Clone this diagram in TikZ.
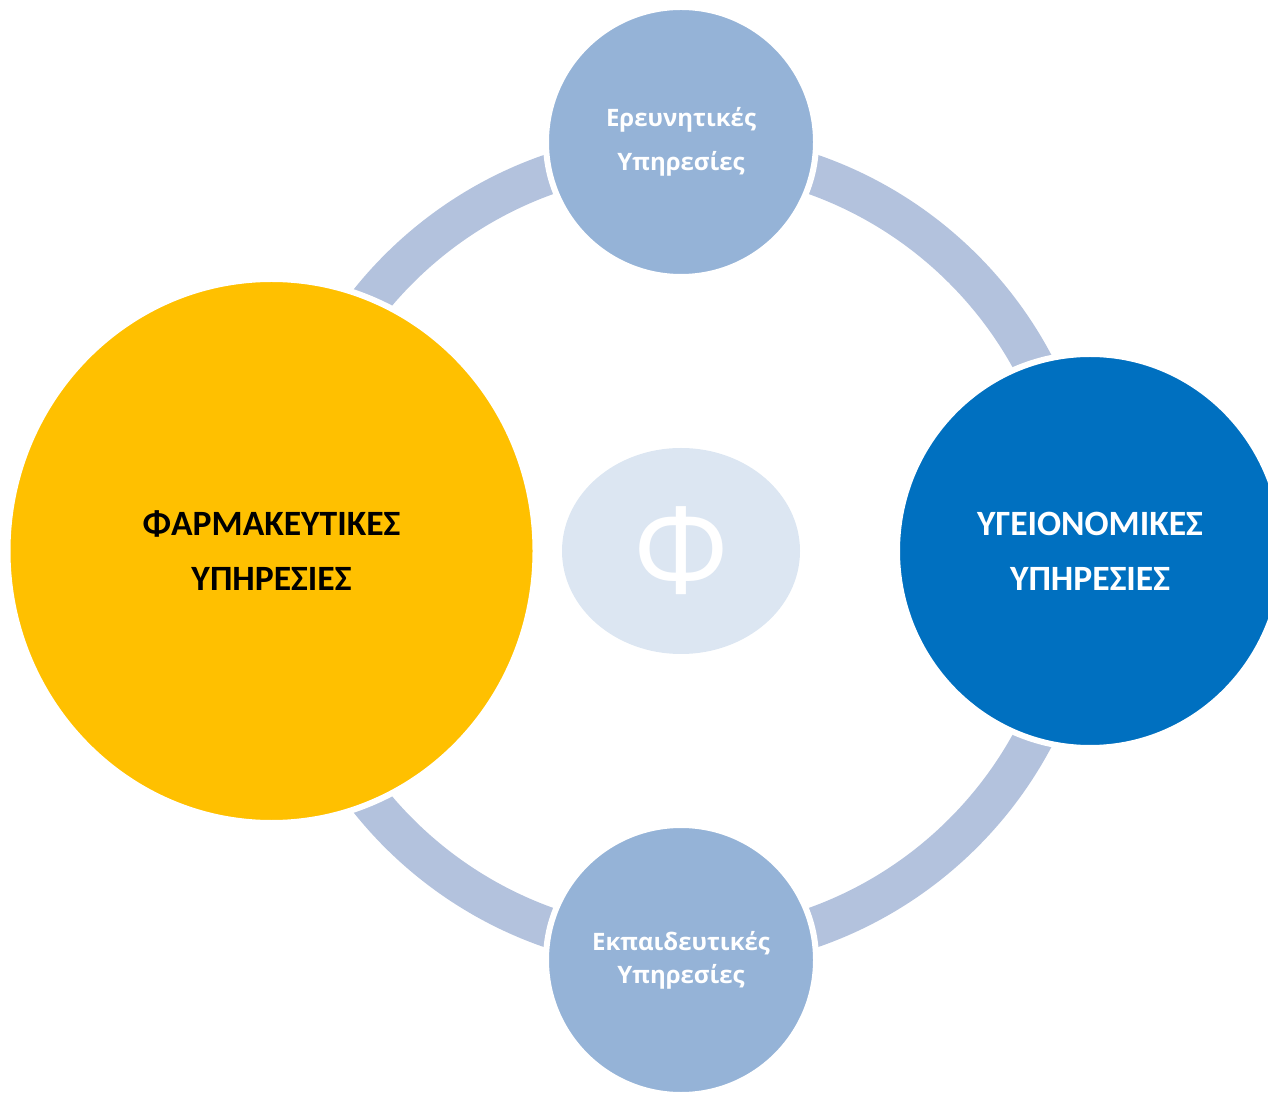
\documentclass[tikz,border=0pt]{standalone}
\usepackage{fontspec}
\setmainfont{Carlito}
\newfontfamily\osans{Open Sans}
\usetikzlibrary{shapes.geometric}
\definecolor{ringc}{HTML}{B3C2DD}
\definecolor{smallc}{HTML}{95B3D7}
\definecolor{yellowc}{HTML}{FFC000}
\definecolor{bluec}{HTML}{0070C0}
\definecolor{centerc}{HTML}{DCE6F2}
\begin{document}
\begin{tikzpicture}[x=0.5pt,y=0.5pt,
  bubble/.style={ellipse, draw=white, line width=3pt, inner sep=0pt, outer sep=0pt, align=center},
  bigtext/.style={font=\bfseries\fontsize{17.8}{27.5}\selectfont},
  smalltext/.style={text=white, font=\osans\bfseries\fontsize{12}{22}\selectfont}]
\useasboundingbox (0,0) rectangle (1268,1093);
\clip (0,0) rectangle (1268,1093);
\coordinate (O) at (681,542);
\draw[ringc, line width=20pt] (O) circle[radius=199.5pt];
\node[bubble, bigtext, fill=yellowc, minimum width=264pt, minimum height=272pt] (farm) at (271.5,542) {ΦΑΡΜΑΚΕΥΤΙΚΕΣ\\ΥΠΗΡΕΣΙΕΣ};
\node[bubble, bigtext, fill=bluec, text=white, minimum width=193pt, minimum height=197pt] (ygeia) at (1090,542) {ΥΓΕΙΟΝΟΜΙΚΕΣ\\ΥΠΗΡΕΣΙΕΣ};
\node[bubble, smalltext, fill=smallc, minimum width=135pt, minimum height=135pt] (erev) at (681,951) {Ερευνητικές\\Υπηρεσίες};
\node[bubble, smalltext, fill=smallc, minimum width=135pt, minimum height=135pt, font=\osans\bfseries\fontsize{12}{16.5}\selectfont] (ekp) at (681,133) {Εκπαιδευτικές\\Υπηρεσίες};
\node[ellipse, fill=centerc, minimum width=119pt, minimum height=103pt, inner sep=0pt, text=white, font=\osans\fontsize{60}{64}\selectfont] (phi) at (O) {Φ};
\end{tikzpicture}
\end{document}
